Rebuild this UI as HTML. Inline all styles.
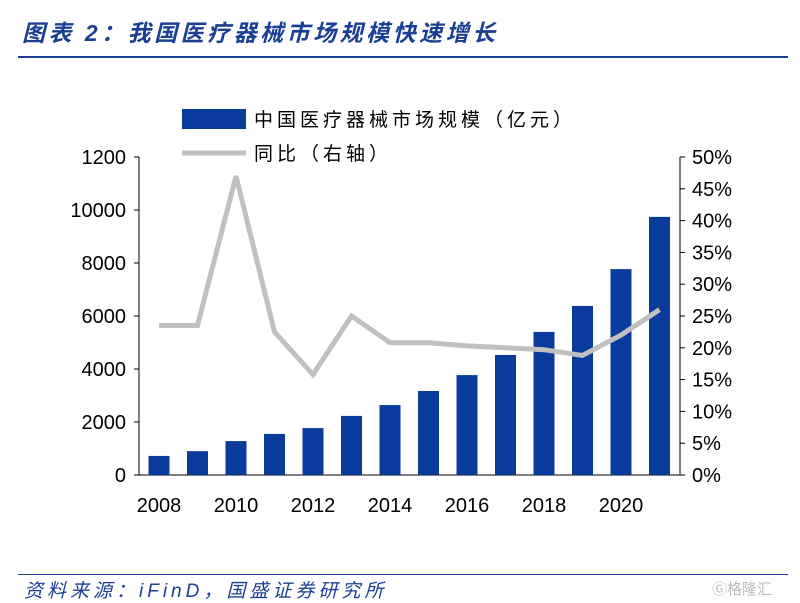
<!DOCTYPE html>
<html><head><meta charset="utf-8"><style>
body{margin:0;width:800px;height:602px;background:#fff;overflow:hidden;font-family:"Liberation Sans","Noto Sans CJK SC",sans-serif;}
#title{position:absolute;left:22px;top:14px;font-size:23px;letter-spacing:3.5px;font-weight:bold;font-style:italic;color:#1a3f95;}
#tline{position:absolute;left:18px;top:56px;width:770px;height:2px;background:#1a3f95;}
#bline{position:absolute;left:18px;top:574px;width:770px;height:1px;background:#1a3f95;}
#src{position:absolute;left:24px;top:576px;font-size:19px;letter-spacing:4px;font-style:italic;color:#1a3f95;}
#wm{position:absolute;left:712px;top:578px;font-size:15px;color:#bbb;}
</style></head><body>
<div id="title">图表 2：我国医疗器械市场规模快速增长</div>
<div id="tline"></div>
<svg id="chart" width="800" height="602" style="position:absolute;left:0;top:0"></svg>
<div id="bline"></div>
<div id="src">资料来源：iFinD，国盛证券研究所</div>
<div id="wm">Ⓖ格隆汇</div>
<script>
const years=[2008,2009,2010,2011,2012,2013,2014,2015,2016,2017,2018,2019,2020,2021];
const marketSize=[720,900,1280,1550,1770,2230,2640,3170,3770,4530,5400,6380,7770,9740];
const yoy=[23.5,23.5,47,22.5,15.8,25,20.8,20.8,20.3,20,19.7,18.8,22,26];
const leftTicks=[0,2000,4000,6000,8000,10000,12000];
const leftTickLabels=["0","2000","4000","6000","8000","10000","1200"];
const rightTicks=[0,5,10,15,20,25,30,35,40,45,50];
const xLabelYears=[2008,2010,2012,2014,2016,2018,2020];
const svg=document.getElementById('chart');const NS='http://www.w3.org/2000/svg';
const y0=475,y1=157;
const yL=v=>y0-(v/12000)*(y0-y1);
const yR=v=>y0-(v/50)*(y0-y1);
const xS=yr=>159+(yr-2008)*38.5;
function mk(t,a,txt){const e=document.createElementNS(NS,t);for(const k in a)e.setAttribute(k,a[k]);if(txt!=null)e.textContent=txt;svg.appendChild(e);return e;}
let e=mk('line',{x1:139,y1:y1,x2:139,y2:y0,stroke:'#000'});


e=mk('line',{x1:139,y1:y0,x2:680,y2:y0,stroke:'#000'});


e=mk('line',{x1:680,y1:y1,x2:680,y2:y0,stroke:'#000'});


leftTicks.forEach((v,i)=>{mk('line',{x1:134,y1:yL(v),x2:139,y2:yL(v),stroke:'#000'});
e=mk('text',{x:126,y:yL(v)+7,'text-anchor':'end','font-size':20},leftTickLabels[i]);

});
rightTicks.forEach(v=>{mk('line',{x1:680,y1:yR(v),x2:685,y2:yR(v),stroke:'#000'});
e=mk('text',{x:692,y:yR(v)+7,'font-size':20},v+'%');

});
xLabelYears.forEach(yr=>{e=mk('text',{x:xS(yr),y:512,'text-anchor':'middle','font-size':20},String(yr));

});
years.forEach((yr,i)=>{e=mk('rect',{x:xS(yr)-10.5,y:yL(marketSize[i]),width:21,height:y0-yL(marketSize[i]),fill:'#0a3b9c'});

});
e=mk('polyline',{points:years.map((yr,i)=>xS(yr)+','+yR(yoy[i])).join(' '),fill:'none',stroke:'#c0c0c0','stroke-width':5,'stroke-linejoin':'miter'});


e=mk('rect',{x:182,y:109,width:64,height:20,fill:'#0a3b9c'});


e=mk('text',{x:254,y:126,'font-size':19,'letter-spacing':4},'中国医疗器械市场规模（亿元）');


e=mk('line',{x1:182,y1:153,x2:246,y2:153,stroke:'#c0c0c0','stroke-width':5});


e=mk('text',{x:254,y:160,'font-size':19,'letter-spacing':4},'同比（右轴）');


</script>
</body></html>
